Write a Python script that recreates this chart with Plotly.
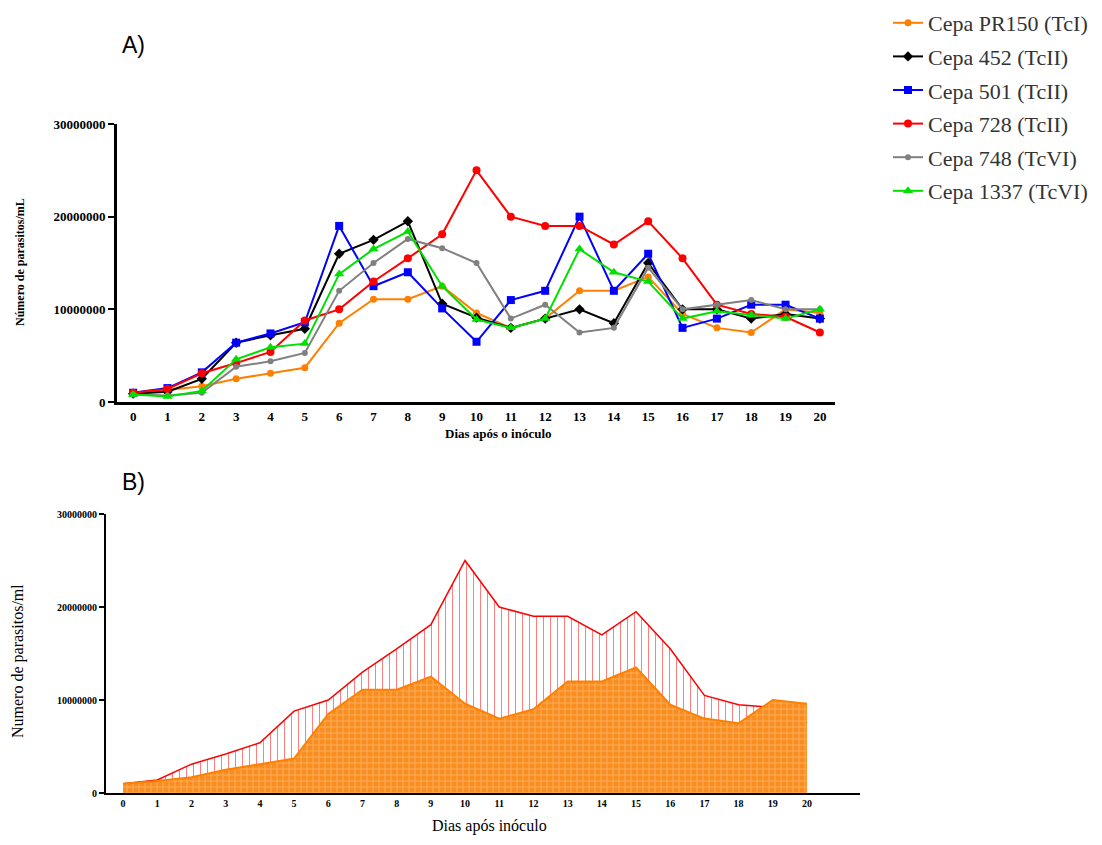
import plotly.graph_objects as go

days = list(range(21))
day_labels = [str(d) for d in days]

pr150 = [1.0e6, 1.3e6, 1.7e6, 2.5e6, 3.1e6, 3.7e6, 8.5e6, 11.1e6, 11.1e6, 12.5e6, 9.6e6,
         8.0e6, 9.0e6, 12.0e6, 12.0e6, 13.5e6, 9.5e6, 8.0e6, 7.5e6, 10.0e6, 9.6e6]
c452 = [0.9e6, 1.1e6, 2.5e6, 6.4e6, 7.2e6, 7.9e6, 16.0e6, 17.5e6, 19.5e6, 10.6e6, 9.1e6,
        8.0e6, 9.0e6, 10.0e6, 8.5e6, 15.0e6, 10.0e6, 10.0e6, 9.0e6, 9.5e6, 9.0e6]
c501 = [1.0e6, 1.5e6, 3.2e6, 6.4e6, 7.4e6, 8.6e6, 19.0e6, 12.5e6, 14.0e6, 10.1e6, 6.5e6,
        11.0e6, 12.0e6, 20.0e6, 12.0e6, 16.0e6, 8.0e6, 9.0e6, 10.5e6, 10.5e6, 9.0e6]
c728 = [1.0e6, 1.4e6, 3.1e6, 4.2e6, 5.4e6, 8.8e6, 10.0e6, 13.0e6, 15.5e6, 18.1e6, 25.0e6,
        20.0e6, 19.0e6, 19.0e6, 17.0e6, 19.5e6, 15.5e6, 10.5e6, 9.5e6, 9.2e6, 7.5e6]
c748 = [0.8e6, 0.7e6, 1.0e6, 3.8e6, 4.4e6, 5.3e6, 12.0e6, 15.0e6, 17.6e6, 16.6e6, 15.0e6,
        9.0e6, 10.5e6, 7.5e6, 8.0e6, 14.5e6, 10.0e6, 10.5e6, 11.0e6, 10.0e6, 10.0e6]
c1337 = [0.8e6, 0.6e6, 1.2e6, 4.6e6, 5.9e6, 6.3e6, 13.8e6, 16.5e6, 18.4e6, 12.5e6, 8.9e6,
         8.0e6, 9.0e6, 16.5e6, 14.0e6, 13.0e6, 9.0e6, 9.8e6, 9.4e6, 9.0e6, 10.0e6]

y_ticks = [0, 10000000, 20000000, 30000000]
y_tick_labels = ["0", "10000000", "20000000", "30000000"]

series = [
    ("Cepa PR150 (TcI)", pr150, "#FF8000", "circle", 7),
    ("Cepa 452 (TcII)", c452, "#000000", "diamond", 8),
    ("Cepa 501 (TcII)", c501, "#0000FF", "square", 8),
    ("Cepa 728 (TcII)", c728, "#FF0000", "circle", 8),
    ("Cepa 748 (TcVI)", c748, "#808080", "circle", 6),
    ("Cepa 1337 (TcVI)", c1337, "#00E000", "triangle-up", 9),
]

fig = go.Figure()
for i, (name, vals, col, sym, sz) in enumerate(series):
    fig.add_trace(go.Scatter(
        x=days, y=vals, name=name, mode="lines+markers",
        line=dict(color=col, width=2), marker=dict(color=col, symbol=sym, size=sz),
        legendgroup=f"g{i}", xaxis="x", yaxis="y"))

# Panel B
fig.add_trace(go.Scatter(
    x=days, y=c728, mode="lines", showlegend=False, fill="tozeroy",
    line=dict(color="#FF0000", width=1.5),
    fillpattern=dict(shape="|", fgcolor="#FF0000", bgcolor="white", size=7, solidity=0.15),
    xaxis="x2", yaxis="y2"))
fig.add_trace(go.Scatter(
    x=days, y=pr150, mode="lines", showlegend=False, fill="tozeroy",
    line=dict(color="#FF8000", width=2),
    fillcolor="#F98D20",
    fillpattern=dict(shape="+", fgcolor="#FFD9B0", bgcolor="#F98D20", size=6, solidity=0.25),
    xaxis="x2", yaxis="y2"))

# page has 8px body margin -> figure is 16px smaller than the window
OFF = 8
W, H = 1102 - 2 * OFF, 845 - 2 * OFF

def px_x(p):
    return (p - OFF) / W

def px_y(p):
    return 1 - (p - OFF) / H

tickfontA = dict(family="Liberation Serif", size=13, color="black")
fig.update_layout(
    width=W, height=H,
    margin=dict(l=0, r=0, t=0, b=0, autoexpand=False),
    plot_bgcolor="white", paper_bgcolor="white",
    showlegend=True,
    legend=dict(x=px_x(888), y=px_y(2), xanchor="left", yanchor="top",
                font=dict(family="Liberation Serif", size=22, color="#333333"),
                tracegroupgap=2, itemwidth=30, traceorder="grouped",
                bgcolor="rgba(0,0,0,0)"),
    xaxis=dict(domain=[px_x(117), px_x(835)], range=[-0.47, 20.44],
               tickvals=days, ticktext=day_labels, ticks="", showgrid=False, zeroline=False,
               showline=True, linecolor="black", linewidth=3,
               tickfont=dict(family="Liberation Serif", size=13, color="black", weight="bold"),
               anchor="y"),
    yaxis=dict(domain=[px_y(402), px_y(124)], range=[0, 30000000],
               tickvals=y_ticks, ticktext=[f"<b>{t}</b>" for t in y_tick_labels],
               ticks="outside", ticklen=6, tickwidth=2, tickcolor="black",
               showgrid=False, zeroline=False, showline=True, linecolor="black", linewidth=3,
               tickfont=tickfontA, anchor="x"),
    xaxis2=dict(domain=[px_x(106), px_x(860)], range=[-0.5, 21.55],
                tickvals=days, ticktext=day_labels, ticks="", showgrid=False, zeroline=False,
                showline=True, linecolor="black", linewidth=2,
                tickfont=dict(family="Liberation Serif", size=10, color="black", weight="bold"),
                anchor="y2"),
    yaxis2=dict(domain=[px_y(793), px_y(514)], range=[0, 30000000],
                tickvals=y_ticks, ticktext=[f"<b>{t}</b>" for t in y_tick_labels],
                ticks="outside", ticklen=5, tickwidth=1.5, tickcolor="black",
                showgrid=False, zeroline=False, showline=True, linecolor="black", linewidth=2,
                tickfont=dict(family="Liberation Serif", size=10, color="black"),
                anchor="x2"),
)

fig.add_annotation(text="A)", x=px_x(120), y=px_y(45), xref="paper", yref="paper",
                   xanchor="left", yanchor="middle", showarrow=False,
                   font=dict(family="Liberation Sans", size=23, color="black"))
fig.add_annotation(text="B)", x=px_x(120), y=px_y(482), xref="paper", yref="paper",
                   xanchor="left", yanchor="middle", showarrow=False,
                   font=dict(family="Liberation Sans", size=23, color="black"))
fig.add_annotation(text="<b>Número de parasitos/mL</b>", x=px_x(20), y=px_y(262),
                   xref="paper", yref="paper", textangle=-90, showarrow=False,
                   xanchor="center", yanchor="middle",
                   font=dict(family="Liberation Serif", size=12, color="black"))
fig.add_annotation(text="<b>Dias após o inóculo</b>", x=px_x(498), y=px_y(433),
                   xref="paper", yref="paper", showarrow=False,
                   xanchor="center", yanchor="middle",
                   font=dict(family="Liberation Serif", size=13, color="black"))
fig.add_annotation(text="Numero de parasitos/ml", x=px_x(18), y=px_y(661),
                   xref="paper", yref="paper", textangle=-90, showarrow=False,
                   xanchor="center", yanchor="middle",
                   font=dict(family="Liberation Serif", size=16, color="black"))
fig.add_annotation(text="Dias após inóculo", x=px_x(489), y=px_y(837),
                   xref="paper", yref="paper", showarrow=False,
                   xanchor="center", yanchor="bottom",
                   font=dict(family="Liberation Serif", size=16, color="black"))

fig.write_html("out.html")
